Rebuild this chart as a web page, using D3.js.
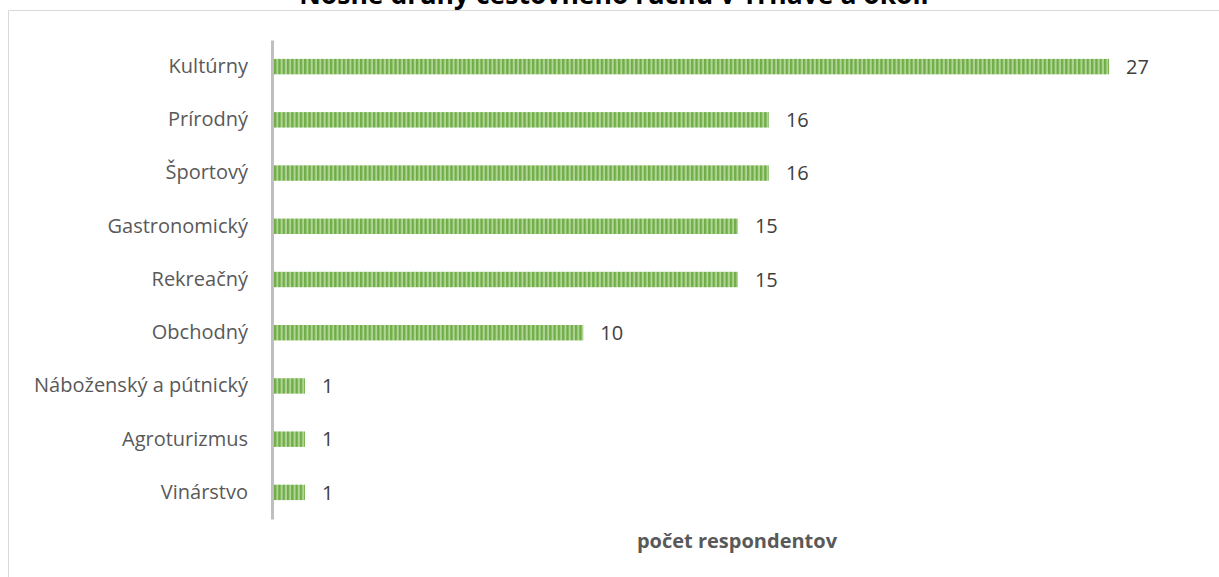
<!DOCTYPE html>
<html>
<head>
<meta charset="utf-8">
<script src="https://cdn.jsdelivr.net/npm/d3@7"></script>
<style>
  html, body { margin: 0; padding: 0; background: #fff; }
  svg { display: block; font-family: "Open Sans", "Liberation Sans", sans-serif; }
</style>
</head>
<body>
<svg id="chart" width="1219" height="577"></svg>
<script>
// Tourism types (top to bottom) and number of respondents naming each
const categories = ["Kultúrny", "Prírodný", "Športový", "Gastronomický", "Rekreačný",
                    "Obchodný", "Náboženský a pútnický", "Agroturizmus", "Vinárstvo"];
const respondents = [27, 16, 16, 15, 15, 10, 1, 1, 1];
const titleText = "Nosné druhy cestovného ruchu v Trnave a okolí";
const axisTitle = "počet respondentov";

const svg = d3.select("#chart");
const W = 1219, H = 577;

// striped fill for the bars
const defs = svg.append("defs");
const pat = defs.append("pattern")
  .attr("id", "stripes")
  .attr("patternUnits", "userSpaceOnUse")
  .attr("x", 274)
  .attr("width", 4.3).attr("height", 10);
pat.append("rect").attr("width", 4.3).attr("height", 10).attr("fill", "#b0d596");
pat.append("rect").attr("width", 2.3).attr("height", 10).attr("fill", "#70ad47");

// chart area frame (top and left edges visible)
svg.append("line").attr("x1", 8.5).attr("x2", W).attr("y1", 10.5).attr("y2", 10.5)
  .attr("stroke", "#d9d9d9").attr("stroke-width", 1);
svg.append("line").attr("x1", 8.5).attr("x2", 8.5).attr("y1", 10.5).attr("y2", H)
  .attr("stroke", "#d9d9d9").attr("stroke-width", 1);

// title, running off the top edge
svg.append("text")
  .attr("x", 614).attr("y", 4)
  .attr("text-anchor", "middle")
  .attr("font-size", 26.5).attr("font-weight", "bold")
  .attr("fill", "#000")
  .text(titleText);

const x = d3.scaleLinear().domain([0, 30]).range([274, 274 + 30 * 30.93]);
const y = d3.scaleBand().domain(categories).range([40, 519])
  .paddingInner(0.71).paddingOuter(0.355);

// bars
svg.append("g").selectAll("rect")
  .data(categories)
  .join("rect")
  .attr("x", x(0))
  .attr("y", d => y(d))
  .attr("width", (d, i) => x(respondents[i]) - x(0))
  .attr("height", y.bandwidth())
  .attr("fill", "url(#stripes)");

// category axis
const yAxis = svg.append("g")
  .attr("transform", `translate(${x(0) - 2},0)`)
  .call(d3.axisLeft(y).tickSize(0).tickPadding(24));
yAxis.select(".domain").attr("stroke", "#bfbfbf").attr("stroke-width", 3);
yAxis.selectAll("text")
  .attr("font-size", 20)
  .attr("fill", "#595959")
  .attr("font-family", "'Open Sans', sans-serif");

// value labels
svg.append("g").selectAll("text")
  .data(categories)
  .join("text")
  .attr("x", (d, i) => x(respondents[i]) + 17)
  .attr("y", d => y(d) + y.bandwidth() / 2)
  .attr("dy", "0.36em")
  .attr("font-size", 20)
  .attr("fill", "#404040")
  .text((d, i) => respondents[i]);

// value axis title
svg.append("text")
  .attr("x", 737).attr("y", 548)
  .attr("text-anchor", "middle")
  .attr("font-size", 20).attr("font-weight", "bold")
  .attr("fill", "#595959")
  .text(axisTitle);
</script>
</body>
</html>
